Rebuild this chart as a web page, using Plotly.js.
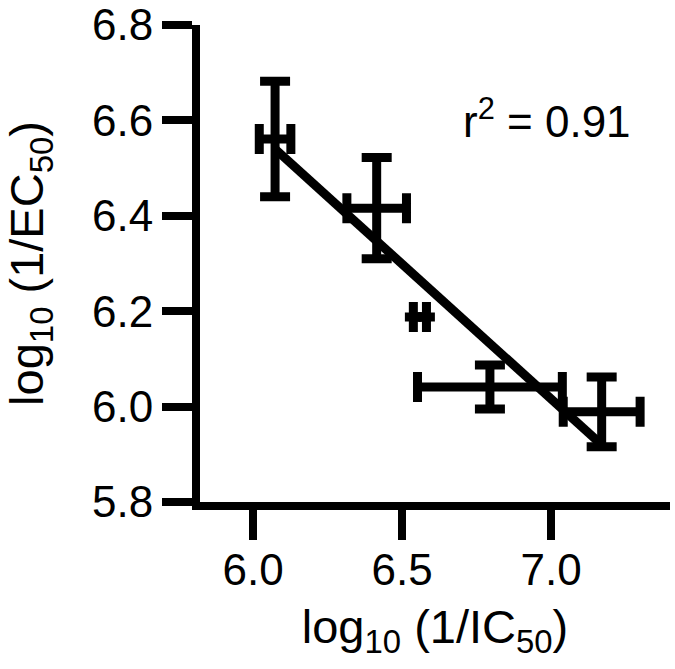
<!DOCTYPE html>
<html>
<head>
<meta charset="utf-8">
<script src="https://cdn.plot.ly/plotly-3.0.1.min.js"></script>
<style>html,body{margin:0;padding:0;background:#fff;}#chart{width:675px;height:669px;}</style>
</head>
<body>
<div id="chart"></div>
<script>
// Data
const xVals = [6.074, 6.415, 6.560, 6.795, 7.170];   // log10(1/IC50)
const yVals = [6.561, 6.416, 6.188, 6.041, 5.989];   // log10(1/EC50)
const xErr  = [0.053, 0.100, 0.022, 0.243, 0.129];
const yErr  = [0.121, 0.106, null, 0.046, 0.073];
const fitX  = [6.074, 7.170];                        // regression line ends
const fitY  = [6.540, 5.920];
const xTicks = [6.0, 6.5, 7.0];
const xTickLabels = ['6.0', '6.5', '7.0'];
const yTicks = [5.8, 6.0, 6.2, 6.4, 6.6, 6.8];
const yTickLabels = ['5.8', '6.0', '6.2', '6.4', '6.6', '6.8'];
const r2Text = 'r<sup>2</sup> = 0.91';

const FONT = 'Liberation Sans, Arial, Helvetica, sans-serif';

const traces = [
  {
    x: fitX, y: fitY, type: 'scatter', mode: 'lines',
    line: {color: '#000', width: 9}, hoverinfo: 'skip', showlegend: false
  },
  {
    x: xVals, y: yVals, type: 'scatter', mode: 'markers',
    marker: {color: '#000', size: 10},
    error_x: {type: 'data', array: xErr, visible: true, color: '#000', thickness: 9, width: 15},
    error_y: {type: 'data', array: yErr, visible: true, color: '#000', thickness: 9, width: 15},
    showlegend: false
  }
];

const layout = {
  width: 675, height: 669,
  margin: {l: 200, r: 5, t: 25, b: 167, pad: 0},
  paper_bgcolor: '#fff', plot_bgcolor: '#fff',
  font: {family: FONT, color: '#000', size: 44},
  showlegend: false,
  xaxis: {
    range: [5.8221, 7.3993], showgrid: false, zeroline: false,
    showline: true, linecolor: '#000', linewidth: 8,
    ticks: 'outside', ticklen: 30, tickwidth: 8, tickcolor: '#000',
    tickvals: xTicks, ticktext: xTickLabels,
    tickfont: {family: FONT, size: 44, color: '#000'},
    ticklabelstandoff: -8,
    title: {text: 'log<sub>10</sub> (1/IC<sub>50</sub>)', font: {family: FONT, size: 47, color: '#000'}, standoff: 20}
  },
  yaxis: {
    range: [5.8, 6.8], showgrid: false, zeroline: false,
    showline: true, linecolor: '#000', linewidth: 8,
    ticks: 'outside', ticklen: 30, tickwidth: 8, tickcolor: '#000',
    tickvals: yTicks, ticktext: yTickLabels,
    tickfont: {family: FONT, size: 44, color: '#000'},
    title: {text: 'log<sub>10</sub> (1/EC<sub>50</sub>)', font: {family: FONT, size: 47, color: '#000'}, standoff: 40}
  },
  annotations: [{
    x: 7.275, y: 6.603, xref: 'x', yref: 'y', xanchor: 'right', yanchor: 'middle',
    text: r2Text, showarrow: false, font: {family: FONT, size: 44, color: '#000'}
  }]
};

Plotly.newPlot('chart', traces, layout, {staticPlot: true, displayModeBar: false});
</script>
</body>
</html>
